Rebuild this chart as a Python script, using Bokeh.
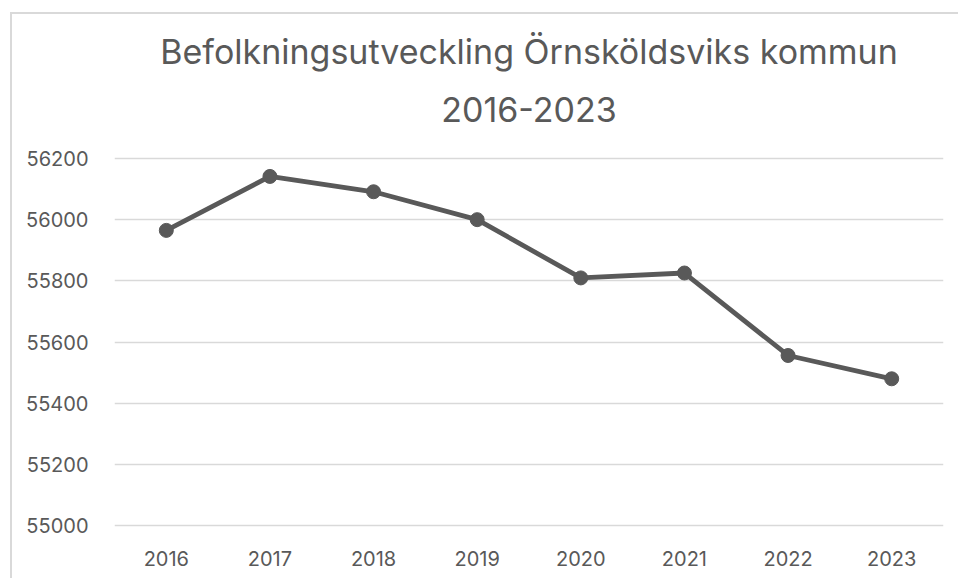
from bokeh.plotting import figure
from bokeh.models import FactorRange, Range1d, FixedTicker, Title
from bokeh.embed import file_html
from bokeh.resources import INLINE

years = ["2016", "2017", "2018", "2019", "2020", "2021", "2022", "2023"]
population = [55964, 56140, 56090, 55999, 55809, 55825, 55556, 55480]
y_ticks = [55000, 55200, 55400, 55600, 55800, 56000, 56200]
title_line1 = "Befolkningsutveckling Örnsköldsviks kommun"
title_line2 = "2016-2023"

TXT = "#595959"
FONT = "Inter"

p = figure(
    width=948, height=566,
    x_range=FactorRange(*years, range_padding=0),
    y_range=Range1d(54995, 56205),
    output_backend="svg", toolbar_location=None,
    min_border_left=102, min_border_right=17, min_border_bottom=53, min_border_top=142,
    margin=(12, 0, 0, 10),
    title=None,
)
p.styles = {"border-left": "2px solid #d9d9d9", "border-top": "2px solid #d9d9d9"}
p.outline_line_color = None
p.background_fill_color = "white"
p.border_fill_color = "white"

t2 = Title(text=title_line2, align="center", text_font=FONT, text_font_size="34px",
           text_color=TXT, text_font_style="normal", standoff=70, offset=0)
t1 = Title(text=title_line1, align="center", text_font=FONT, text_font_size="34px",
           text_color=TXT, text_font_style="normal", standoff=-25, offset=0)
p.add_layout(t2, "above")
p.add_layout(t1, "above")

p.line(years, population, line_color="#595959", line_width=4.8)
p.scatter(years, population, size=14, fill_color="#595959", line_color="#595959")

p.xgrid.grid_line_color = None
p.ygrid.grid_line_color = "#d9d9d9"
p.ygrid.grid_line_width = 1.5
p.yaxis.ticker = FixedTicker(ticks=y_ticks)

for ax in (p.xaxis[0], p.yaxis[0]):
    ax.axis_line_color = None
    ax.major_tick_line_color = None
    ax.minor_tick_line_color = None
    ax.major_label_text_font = FONT
    ax.major_label_text_font_size = "20px"
    ax.major_label_text_color = TXT

p.yaxis.major_label_standoff = 20
p.xaxis.major_label_standoff = 17

open("out.html", "w").write(file_html(p, INLINE))
